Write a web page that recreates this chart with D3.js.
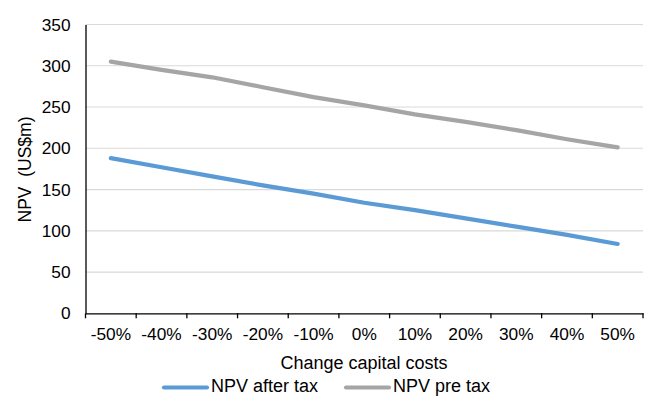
<!DOCTYPE html>
<html>
<head>
<meta charset="utf-8">
<script src="https://cdn.jsdelivr.net/npm/d3@7"></script>
<style>
  html, body { margin: 0; padding: 0; background: #fff; }
  svg { display: block; font-family: "Liberation Sans", Arial, sans-serif; }
</style>
</head>
<body>
<svg id="chart" width="651" height="396"></svg>
<script>
// Capital-cost sensitivity of project NPV
const categories = ["-50%", "-40%", "-30%", "-20%", "-10%", "0%", "10%", "20%", "30%", "40%", "50%"];
const npvAfterTax = [188, 177, 166, 155, 145, 134, 125, 115, 105, 95, 84];
const npvPreTax   = [305, 295, 286, 274, 262, 252, 241, 232, 222, 211, 201];
const yTicks = [0, 50, 100, 150, 200, 250, 300, 350];
const seriesNames = ["NPV after tax", "NPV pre tax"];
const seriesColors = ["#5B9BD5", "#A5A5A5"];

const svg = d3.select("#chart");
const margin = { left: 85.5, right: 8, top: 24.5, bottom: 82.7 };
const W = 651, H = 396;
const x0 = margin.left, x1 = W - margin.right;
const y0 = H - margin.bottom, y1 = margin.top;

const x = d3.scaleBand().domain(categories).range([x0, x1]);
const y = d3.scaleLinear().domain([0, 350]).range([y0, y1]);

// gridlines
svg.append("g")
  .selectAll("line")
  .data(yTicks.filter(d => d > 0))
  .join("line")
  .attr("x1", x0).attr("x2", x1)
  .attr("y1", d => y(d)).attr("y2", d => y(d))
  .attr("stroke", "#d9d9d9").attr("stroke-width", 1.2);

// y axis
const yAxis = svg.append("g").attr("transform", `translate(${x0},0)`)
  .call(d3.axisLeft(y).tickValues(yTicks).tickSize(0).tickPadding(15));
yAxis.select(".domain").attr("stroke", "#000").attr("stroke-width", 1.3);
yAxis.selectAll("text").attr("font-size", 17.3).attr("fill", "#000")
  .attr("font-family", "Liberation Sans, Arial, sans-serif");

// x axis with tick marks at category boundaries
const xAxis = svg.append("g").attr("transform", `translate(0,${y0})`)
  .call(d3.axisBottom(x).tickSize(0).tickPadding(14));
xAxis.select(".domain").attr("stroke", "#000").attr("stroke-width", 1.3);
xAxis.selectAll("text").attr("font-size", 17.3).attr("fill", "#000")
  .attr("font-family", "Liberation Sans, Arial, sans-serif");
const bounds = categories.map(c => x(c)).concat([x1]);
xAxis.append("g").selectAll("line").data(bounds).join("line")
  .attr("x1", d => d).attr("x2", d => d)
  .attr("y1", 0).attr("y2", 5)
  .attr("stroke", "#000").attr("stroke-width", 1.3);

// series lines
const line = d3.line()
  .x((d, i) => x(categories[i]) + x.bandwidth() / 2)
  .y(d => y(d));
[npvAfterTax, npvPreTax].forEach((vals, k) => {
  svg.append("path")
    .datum(vals)
    .attr("d", line)
    .attr("fill", "none")
    .attr("stroke", seriesColors[k])
    .attr("stroke-width", 4.2)
    .attr("stroke-linecap", "round")
    .attr("stroke-linejoin", "round");
});

// axis titles
svg.append("text")
  .attr("x", 364).attr("y", 369)
  .attr("text-anchor", "middle").attr("font-size", 18).attr("fill", "#000")
  .text("Change capital costs");

svg.append("text")
  .attr("transform", `translate(31,${169.5}) rotate(-90)`)
  .attr("text-anchor", "middle").attr("font-size", 17.5).attr("fill", "#000")
  .text("NPV\u00a0 (US$m)");

// legend
const legendItems = [
  { x: 162, name: seriesNames[0], color: seriesColors[0] },
  { x: 344, name: seriesNames[1], color: seriesColors[1] }
];
const lg = svg.append("g");
legendItems.forEach(it => {
  lg.append("line")
    .attr("x1", it.x + 2).attr("x2", it.x + 45)
    .attr("y1", 387.5).attr("y2", 387.5)
    .attr("stroke", it.color).attr("stroke-width", 4.2)
    .attr("stroke-linecap", "round");
  lg.append("text")
    .attr("x", it.x + 49).attr("y", 392)
    .attr("font-size", 18).attr("fill", "#000")
    .text(it.name);
});
</script>
</body>
</html>
